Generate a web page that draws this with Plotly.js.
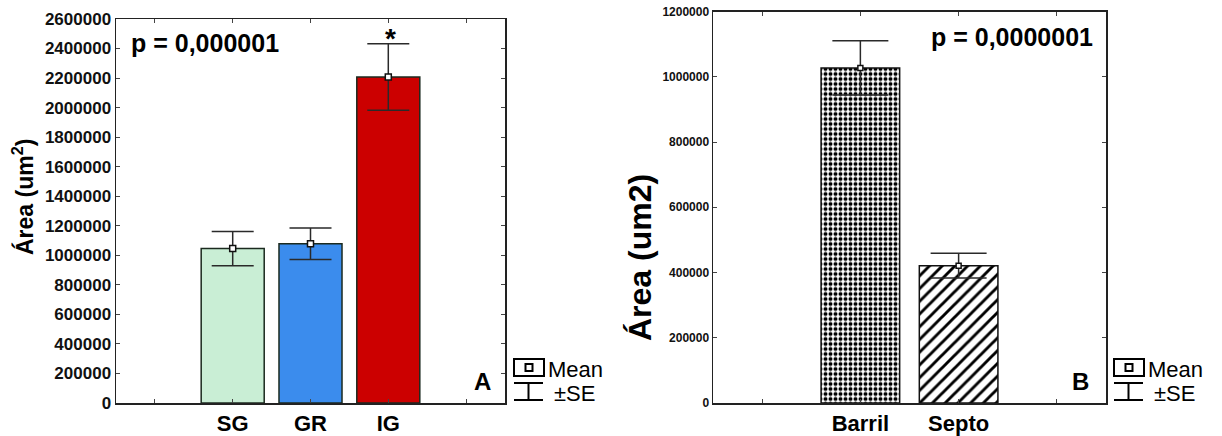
<!DOCTYPE html>
<html>
<head>
<meta charset="utf-8">
<script src="https://cdn.plot.ly/plotly-3.0.1.min.js"></script>
<style>html,body{margin:0;padding:0;background:#fff;}#chart{width:1222px;height:436px;}</style>
</head>
<body>
<div id="chart"></div>
<script>
// ---- Data ----
const catsA = ['SG', 'GR', 'IG'];
const meanA = [1046000, 1078000, 2207000];
const seA = [116000, 107000, 225000];
const colorsA = ['#c9eed5', '#3b8ced', '#cc0000'];
const yTicksA = [0, 200000, 400000, 600000, 800000, 1000000, 1200000, 1400000, 1600000, 1800000, 2000000, 2200000, 2400000, 2600000];

const catsB = ['Barril', 'Septo'];
const meanB = [1027000, 421000];
const seB = [83000, 38000];
const patternsB = ['.', '/'];
const yTicksB = [0, 200000, 400000, 600000, 800000, 1000000, 1200000];

const pTextA = 'p = 0,000001';
const pTextB = 'p = 0,0000001';

// ---- Helpers ----
const W = 1222, H = 436;
const FONT = 'Arial, "Liberation Sans", sans-serif';
const px = v => v / W;
const py = v => 1 - v / H;

const xA = catsA.map((_, i) => i + 1);
const xB = catsB.map((_, i) => i + 1);

const traces = [
  {
    type: 'bar', x: xA, y: meanA, xaxis: 'x', yaxis: 'y', width: 0.81,
    marker: {color: colorsA, line: {color: '#1b2a1f', width: 1.5}},
    error_y: {type: 'data', array: seA, visible: true, color: '#2a2a2a', thickness: 1.5, width: 21},
    hoverinfo: 'skip', showlegend: false
  },
  {
    type: 'scatter', mode: 'markers', x: xA, y: meanA, xaxis: 'x', yaxis: 'y',
    marker: {symbol: 'square', size: 6, color: '#ffffff', line: {color: '#111', width: 1.5}},
    hoverinfo: 'skip', showlegend: false
  },
  {
    type: 'bar', x: xB, y: meanB, xaxis: 'x2', yaxis: 'y2', width: 0.8,
    marker: {color: '#ffffff', line: {color: '#111', width: 1.5},
      pattern: {shape: patternsB, fgcolor: '#000', bgcolor: '#fff', size: [5, 9], solidity: [0.5, 0.32]}},
    error_y: {type: 'data', array: seB, visible: true, color: '#2a2a2a', thickness: 1.5, width: 28},
    hoverinfo: 'skip', showlegend: false
  },
  {
    type: 'scatter', mode: 'markers', x: xB, y: meanB, xaxis: 'x2', yaxis: 'y2',
    marker: {symbol: 'square', size: 5, color: '#ffffff', line: {color: '#111', width: 1.5}},
    hoverinfo: 'skip', showlegend: false
  }
];

const axLine = {showline: true, linecolor: '#222', linewidth: 1.5, mirror: 'allticks', showgrid: false, zeroline: false, ticks: 'inside', ticklen: 4, tickcolor: '#444', tickwidth: 1, fixedrange: true};
const minorX = {tick0: 0, dtick: 1, ticks: 'inside', ticklen: 4, tickcolor: '#444', tickwidth: 1, showgrid: false};

function ann(text, x, y, size, opts) {
  return Object.assign({text: text, xref: 'paper', yref: 'paper', x: px(x), y: py(y), xanchor: 'center', yanchor: 'middle', showarrow: false,
    font: {family: FONT, size: size, color: '#000', weight: 'bold'}}, opts || {});
}

function legendShapes(x0) {
  const s = [];
  const line = {color: '#000', width: 2};
  s.push({type: 'rect', xref: 'paper', yref: 'paper', x0: px(x0), x1: px(x0 + 30), y0: py(376), y1: py(359), line: line, fillcolor: 'rgba(0,0,0,0)'});
  s.push({type: 'rect', xref: 'paper', yref: 'paper', x0: px(x0 + 11.5), x1: px(x0 + 18.5), y0: py(371), y1: py(364), line: line, fillcolor: '#fff'});
  s.push({type: 'line', xref: 'paper', yref: 'paper', x0: px(x0), x1: px(x0 + 29), y0: py(383), y1: py(383), line: line});
  s.push({type: 'line', xref: 'paper', yref: 'paper', x0: px(x0 + 14.5), x1: px(x0 + 14.5), y0: py(383), y1: py(400), line: line});
  s.push({type: 'line', xref: 'paper', yref: 'paper', x0: px(x0), x1: px(x0 + 29), y0: py(400), y1: py(400), line: line});
  return s;
}

const layout = {
  width: W, height: H,
  margin: {l: 0, r: 0, t: 0, b: 0},
  paper_bgcolor: '#fff', plot_bgcolor: '#fff',
  showlegend: false,
  bargap: 0,
  xaxis: Object.assign({}, axLine, {domain: [px(116), px(505)], range: [-0.5, 4.5], tickmode: 'array',
    tickvals: xA, ticktext: catsA, anchor: 'y', minor: minorX,
    tickfont: {family: FONT, size: 22, color: '#000', weight: 'bold'}}),
  yaxis: Object.assign({}, axLine, {domain: [py(403), py(19)], range: [0, 2600000], tickmode: 'array',
    tickvals: yTicksA, tickformat: 'd', anchor: 'x',
    tickfont: {family: FONT, size: 17, color: '#111', weight: 'bold'}}),
  xaxis2: Object.assign({}, axLine, {domain: [px(713), px(1106)], range: [-0.5, 3.5], tickmode: 'array',
    tickvals: xB, ticktext: catsB, anchor: 'y2', minor: minorX,
    tickfont: {family: FONT, size: 22, color: '#000', weight: 'bold'}}),
  yaxis2: Object.assign({}, axLine, {domain: [py(403), py(11.5)], range: [0, 1200000], tickmode: 'array',
    tickvals: yTicksB, tickformat: 'd', anchor: 'x2',
    tickfont: {family: FONT, size: 12, color: '#111', weight: 'bold'}}),
  annotations: [
    ann('Área (um<sup>2</sup>)', 23, 197, 23, {textangle: -90}),
    ann(pTextA, 205, 43, 25),
    ann('*', 390, 38, 28),
    ann('A', 482, 381, 24),
    ann('Mean', 546, 369, 22, {xanchor: 'left', font: {family: FONT, size: 22, color: '#000'}}),
    ann('±SE', 552, 393, 22, {xanchor: 'left', font: {family: FONT, size: 22, color: '#000'}}),
    ann('Área (um2)', 640, 258, 32, {textangle: -90}),
    ann(pTextB, 1012, 37, 25),
    ann('B', 1080, 381, 24),
    ann('Mean', 1146, 369, 22, {xanchor: 'left', font: {family: FONT, size: 22, color: '#000'}}),
    ann('±SE', 1152, 393, 22, {xanchor: 'left', font: {family: FONT, size: 22, color: '#000'}})
  ],
  shapes: legendShapes(514).concat(legendShapes(1114))
};

Plotly.newPlot('chart', traces, layout, {displayModeBar: false, staticPlot: true});
</script>
</body>
</html>
